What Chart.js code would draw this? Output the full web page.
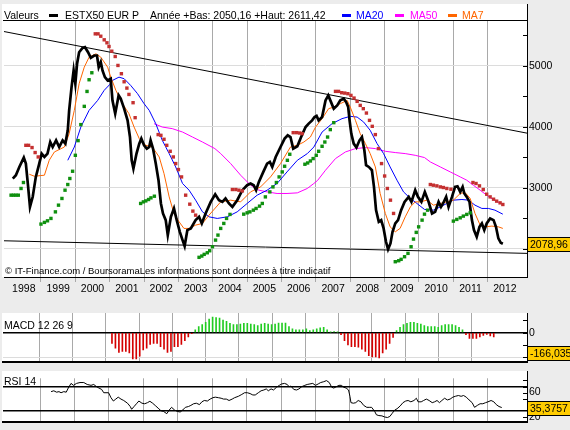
<!DOCTYPE html>
<html>
<head>
<meta charset="utf-8">
<script src="https://cdn.jsdelivr.net/npm/chart.js"></script>
<style>
  html, body { margin: 0; padding: 0; background: #ececec; }
  #wrap { position: relative; width: 570px; height: 430px; overflow: hidden; }
  canvas { position: absolute; left: 0; }
</style>
</head>
<body>
<div id="wrap">
  <canvas id="main" width="570" height="300" style="top:0"></canvas>
  <canvas id="macd" width="570" height="70" style="top:300px"></canvas>
  <canvas id="rsi" width="570" height="60" style="top:370px"></canvas>
</div>
<script>
'use strict';

// Time axis (decimal years) and year labels
var X_MIN = 1997.924, X_MAX = 2013.143;
var years = [1998, 1999, 2000, 2001, 2002, 2003, 2004, 2005, 2006, 2007, 2008, 2009, 2010, 2011, 2012];

// ESTX50 close [year, points]
var price = [
  [1998.18,3150],[1998.27,3205],[1998.37,3340],[1998.50,3495],[1998.56,3396],[1998.62,3050],[1998.68,2685],
  [1998.76,2850],[1998.85,3177],[1998.95,3396],[1999.02,3560],[1999.10,3505],[1999.19,3560],[1999.27,3750],
  [1999.34,3668],[1999.44,3778],[1999.53,3668],[1999.63,3778],[1999.71,3724],[1999.78,3942],[1999.82,4270],
  [1999.89,4652],[1999.95,4926],[2000.00,4708],[2000.05,5035],[2000.11,5225],[2000.21,5297],[2000.28,5308],
  [2000.37,5225],[2000.45,5134],[2000.55,5171],[2000.63,5171],[2000.68,4980],[2000.74,5062],[2000.79,4926],
  [2000.86,4816],[2000.94,4762],[2001.03,4790],[2001.08,4434],[2001.16,4216],[2001.26,4516],[2001.32,4462],
  [2001.42,4298],[2001.52,4106],[2001.59,3832],[2001.64,3450],[2001.69,3314],[2001.78,3560],[2001.86,3724],
  [2001.92,3806],[2002.00,3696],[2002.08,3642],[2002.15,3668],[2002.19,3778],[2002.26,3642],[2002.34,3396],
  [2002.42,3123],[2002.49,2741],[2002.55,2577],[2002.63,2467],[2002.69,2221],[2002.78,2521],[2002.87,2659],
  [2002.95,2467],[2003.04,2275],[2003.12,2139],[2003.18,2041],[2003.26,2303],[2003.36,2331],[2003.50,2467],
  [2003.60,2521],[2003.68,2413],[2003.79,2577],[2003.94,2767],[2004.07,2890],[2004.18,2795],[2004.28,2767],
  [2004.37,2823],[2004.47,2741],[2004.57,2685],[2004.71,2795],[2004.86,2959],[2005.00,3041],[2005.10,3069],
  [2005.19,3041],[2005.26,2959],[2005.34,3095],[2005.47,3259],[2005.58,3396],[2005.66,3423],[2005.73,3341],
  [2005.83,3505],[2005.97,3668],[2006.09,3806],[2006.18,3860],[2006.26,3832],[2006.34,3642],[2006.46,3680],
  [2006.57,3832],[2006.70,3996],[2006.79,4052],[2006.89,4106],[2006.96,4160],[2007.02,4180],[2007.08,4106],
  [2007.18,4160],[2007.28,4434],[2007.36,4516],[2007.42,4434],[2007.52,4298],[2007.62,4352],[2007.71,4434],
  [2007.81,4462],[2007.88,4406],[2007.94,4324],[2007.98,4106],[2008.03,3888],[2008.10,3724],[2008.18,3659],
  [2008.27,3778],[2008.34,3832],[2008.41,3614],[2008.46,3369],[2008.54,3341],[2008.63,3287],[2008.69,3013],
  [2008.75,2631],[2008.83,2439],[2008.90,2467],[2008.97,2331],[2009.04,2111],[2009.10,1987],[2009.17,2085],
  [2009.23,2275],[2009.31,2413],[2009.39,2467],[2009.48,2631],[2009.58,2767],[2009.70,2849],[2009.78,2767],
  [2009.89,2959],[2009.97,2849],[2010.07,2767],[2010.17,2931],[2010.28,2767],[2010.38,2577],[2010.47,2603],
  [2010.57,2767],[2010.64,2685],[2010.70,2741],[2010.79,2849],[2010.86,2685],[2010.96,2849],[2011.05,3013],
  [2011.12,3024],[2011.20,2931],[2011.27,3013],[2011.32,2905],[2011.39,2849],[2011.47,2767],[2011.54,2467],
  [2011.60,2303],[2011.68,2193],[2011.76,2357],[2011.83,2413],[2011.90,2303],[2011.97,2413],[2012.07,2495],
  [2012.17,2467],[2012.24,2357],[2012.31,2167],[2012.38,2095],[2012.44,2079]
];
var lastClose = 2078.96;

var ma7 = [
  [1998.66,3221],[1998.81,3188],[1999.10,3205],[1999.24,3450],[1999.39,3587],[1999.68,3668],[1999.82,3888],
  [1999.97,4270],[2000.11,4708],[2000.26,4980],[2000.40,5144],[2000.60,5200],[2000.74,5144],[2000.94,4980],
  [2001.03,4816],[2001.18,4598],[2001.37,4380],[2001.56,4216],[2001.71,3996],[2001.86,3806],[2002.05,3696],
  [2002.24,3668],[2002.44,3505],[2002.58,3232],[2002.73,2849],[2002.87,2577],[2003.02,2439],[2003.16,2331],
  [2003.31,2331],[2003.50,2385],[2003.70,2413],[2003.89,2549],[2004.23,2767],[2004.52,2795],[2004.81,2767],
  [2005.10,2931],[2005.39,3013],[2005.68,3177],[2005.97,3396],[2006.26,3668],[2006.46,3696],[2006.65,3750],
  [2006.84,3832],[2006.99,3996],[2007.18,4134],[2007.37,4298],[2007.52,4324],[2007.71,4380],[2007.91,4434],
  [2008.00,4324],[2008.15,4106],[2008.29,3888],[2008.44,3724],[2008.58,3560],[2008.73,3341],[2008.87,2905],
  [2009.02,2577],[2009.16,2357],[2009.31,2275],[2009.45,2331],[2009.60,2521],[2009.75,2685],[2009.89,2767],
  [2010.04,2767],[2010.23,2795],[2010.42,2713],[2010.62,2741],[2010.81,2767],[2011.00,2795],[2011.20,2905],
  [2011.34,2921],[2011.49,2823],[2011.63,2577],[2011.78,2385],[2011.93,2357],[2012.12,2369],[2012.31,2357],
  [2012.44,2331]
];

var ma20 = [
  [1999.78,3450],[1999.97,3668],[2000.16,3996],[2000.40,4270],[2000.65,4434],[2000.84,4600],[2001.01,4700],
  [2001.08,4762],[2001.27,4816],[2001.42,4790],[2001.61,4680],[2001.81,4544],[2002.00,4380],[2002.15,4270],
  [2002.34,4052],[2002.53,3778],[2002.73,3560],[2002.92,3341],[2003.12,3069],[2003.31,2959],[2003.50,2795],
  [2003.70,2603],[2003.89,2521],[2004.13,2495],[2004.42,2521],[2004.71,2603],[2005.00,2741],[2005.29,2877],
  [2005.58,2959],[2005.87,3069],[2006.16,3259],[2006.46,3450],[2006.75,3560],[2006.94,3668],[2007.18,3914],
  [2007.47,4052],[2007.76,4134],[2008.00,4172],[2008.20,4160],[2008.39,4078],[2008.58,3942],[2008.78,3724],
  [2008.97,3560],[2009.16,3341],[2009.36,3123],[2009.55,2931],[2009.75,2823],[2009.94,2741],[2010.16,2643],
  [2010.42,2631],[2010.62,2685],[2010.81,2741],[2011.00,2795],[2011.25,2806],[2011.44,2795],[2011.63,2713],
  [2011.83,2659],[2012.02,2659],[2012.21,2631],[2012.44,2565]
];

var ma50 = [
  [2002.29,4052],[2002.53,3996],[2002.82,3970],[2003.12,3914],[2003.41,3832],[2003.70,3750],[2004.06,3642],
  [2004.23,3560],[2004.52,3396],[2004.81,3205],[2005.10,3041],[2005.34,2959],[2005.58,2931],[2005.87,2905],
  [2006.16,2905],[2006.46,2915],[2006.75,2987],[2006.94,3069],[2007.05,3120],[2007.28,3287],[2007.57,3478],
  [2007.86,3587],[2008.15,3642],[2008.44,3659],[2008.73,3642],[2009.02,3598],[2009.31,3577],[2009.60,3560],
  [2009.89,3532],[2010.16,3495],[2010.33,3423],[2010.62,3341],[2010.91,3259],[2011.20,3177],[2011.39,3123],
  [2011.58,3041],[2011.78,2959],[2011.97,2877],[2012.17,2800],[2012.44,2725]
];

// Parabolic SAR, above price (red) and below price (green)
var sarDown = [
  [1998.56,3696],[1998.64,3696],[1998.74,3659],[1998.83,3577],[1998.92,3505],
  [2000.58,5527],[2000.66,5527],[2000.74,5488],[2000.84,5429],[2000.92,5380],[2000.98,5319],[2001.06,5242],
  [2001.16,5155],[2001.24,5008],[2001.34,4872],[2001.42,4740],[2001.50,4636],[2001.56,4532],[2001.68,4396],
  [2001.74,4150],
  [2002.41,3872],[2002.49,3860],[2002.58,3795],[2002.66,3696],[2002.76,3598],[2002.85,3505],[2002.92,3396],
  [2003.00,3298],[2003.09,3177],[2003.21,2877],[2003.33,2729],[2003.42,2615],[2003.50,2549],
  [2004.57,2970],[2004.67,2970],[2004.76,2959],[2004.86,2947],
  [2006.34,3904],[2006.44,3904],[2006.53,3898],[2006.60,3888],
  [2007.57,4582],[2007.66,4582],[2007.75,4560],[2007.84,4554],[2007.93,4544],[2008.02,4516],[2008.11,4472],
  [2008.20,4418],[2008.29,4352],[2008.38,4298],[2008.47,4226],[2008.56,4106],[2008.64,4008],[2008.73,3872],
  [2008.82,3642],[2008.91,3396],[2009.00,3192],[2009.08,2987],[2009.17,2795],[2009.26,2577],
  [2010.33,3052],[2010.42,3041],[2010.52,3030],[2010.62,3013],[2010.71,3003],[2010.81,2987],[2010.93,2975],
  [2011.57,3085],[2011.66,3069],[2011.76,3030],[2011.87,2970],[2011.97,2893],[2012.07,2849],[2012.17,2811],
  [2012.26,2779],[2012.36,2751],[2012.44,2724]
];
var sarUp = [
  [1998.13,2877],[1998.20,2877],[1998.27,2877],[1998.34,2877],[1998.42,2987],[1998.49,3085],
  [1999.00,2402],[1999.10,2430],[1999.19,2456],[1999.29,2495],[1999.42,2603],[1999.51,2713],[1999.61,2823],
  [1999.70,2959],[1999.78,3052],[1999.84,3151],[1999.92,3270],[2000.00,3532],[2000.08,3773],[2000.16,4036],
  [2000.26,4336],[2000.34,4581],[2000.40,4773],[2000.48,4888],
  [2001.90,2741],[2001.98,2767],[2002.05,2783],[2002.13,2806],[2002.20,2833],[2002.30,2860],
  [2003.60,1856],[2003.68,1877],[2003.75,1905],[2003.84,1931],[2003.91,1964],[2003.99,2030],[2004.08,2139],
  [2004.15,2221],[2004.23,2331],[2004.32,2413],[2004.40,2495],[2004.50,2561],
  [2004.90,2565],[2005.00,2587],[2005.08,2603],[2005.18,2631],[2005.26,2659],[2005.36,2697],[2005.44,2741],
  [2005.53,2849],[2005.66,2931],[2005.75,3013],[2005.85,3085],[2005.93,3177],[2006.02,3259],[2006.09,3352],
  [2006.17,3450],[2006.24,3549],
  [2006.68,3385],[2006.76,3406],[2006.84,3439],[2006.92,3478],[2007.01,3532],[2007.08,3598],[2007.18,3680],
  [2007.26,3750],[2007.34,3832],[2007.42,3954],[2007.52,4068],
  [2009.31,1784],[2009.41,1800],[2009.48,1823],[2009.58,1866],[2009.68,1921],[2009.77,2030],[2009.84,2156],
  [2009.92,2266],[2009.99,2357],[2010.09,2467],[2010.16,2565],[2010.25,2631],
  [2011.00,2451],[2011.10,2479],[2011.20,2505],[2011.29,2533],[2011.39,2561],[2011.49,2587]
];

// Trend lines drawn on the chart
var trendTop = [[X_MIN, 5565], [X_MAX, 3896]];
var trendBottom = [[X_MIN, 2128], [X_MAX, 1921]];

// MACD 12 26 9 histogram, one bar per period from macdStart
var macdStart = 2000.93, macdStep = 0.1044;
var macdValues = [
  -86, -125, -159, -151, -151, -164, -211, -211, -190, -138, -125, -94, -86, -86, -112, -133, -159, -151,
  -112, -112, -94, -65, -34, -8,
  23, 49, 65, 83, 109, 127, 122, 117, 101, 91, 75, 65, 65, 70, 75, 75, 70, 65, 57, 70, 75, 70, 65, 70,
  78, 78, 78, 49, 31, 23, 23, 23, 31, 18, 23, 31, 39, 44, 23, 5, 10, 5,
  -16, -65, -99, -112, -112, -117, -133, -151, -185, -195, -195, -203, -164, -133, -86, -39,
  18, 44, 65, 75, 83, 83, 75, 70, 57, 49, 49, 49, 44, 57, 65, 65, 65, 57, 44, 23,
  -16, -47, -47, -47, -34, -21, -13, -26, -34
];
var macdLast = -166.035;

// RSI 14
var rsiYears = [
  1999.32,1999.40,1999.48,1999.55,1999.61,1999.69,1999.76,1999.82,1999.90,1999.97,2000.06,2000.16,2000.27,
  2000.37,2000.48,2000.56,2000.64,2000.71,2000.79,2000.85,2000.99,2001.06,2001.13,2001.20,2001.27,2001.35,
  2001.43,2001.54,2001.62,2001.66,2001.73,2001.80,2001.87,2001.96,2002.04,2002.12,2002.19,2002.27,2002.36,
  2002.43,2002.51,2002.59,2002.68,2002.75,2002.82,2002.91,2002.99,2003.07,2003.14,2003.22,2003.31,2003.38,
  2003.46,2003.54,2003.63,2003.70,2003.77,2003.86,2003.94,2004.02,2004.09,2004.18,2004.26,2004.33,2004.41,
  2004.49,2004.58,2004.65,2004.76,2004.86,2004.94,2005.02,2005.10,2005.18,2005.25,2005.34,2005.42,2005.50,
  2005.57,2005.63,2005.71,2005.78,2005.87,2005.95,2006.02,2006.10,2006.18,2006.23,2006.29,2006.37,2006.45,
  2006.52,2006.60,2006.69,2006.76,2006.84,2006.92,2007.00,2007.08,2007.15,2007.24,2007.32,2007.40,2007.47,
  2007.53,2007.61,2007.68,2007.75,2007.82,2007.89,2007.96,2008.00,2008.03,2008.10,2008.17,2008.24,2008.32,
  2008.40,2008.49,2008.56,2008.63,2008.72,2008.77,2008.84,2008.93,2009.01,2009.09,2009.16,2009.22,2009.30,
  2009.37,2009.46,2009.54,2009.62,2009.69,2009.77,2009.86,2009.93,2009.98,2010.07,2010.14,2010.22,2010.30,
  2010.39,2010.46,2010.53,2010.60,2010.67,2010.75,2010.83,2010.91,2010.99,2011.06,2011.15,2011.23,2011.30,
  2011.38,2011.46,2011.55,2011.62,2011.70,2011.78,2011.86,2011.94,2012.01,2012.10,2012.18,2012.25,2012.33,
  2012.41
];
var rsiValues = [
  61.6,63.0,60.7,61.6,59.8,61.6,60.7,67.5,75.2,72.0,75.2,76.6,76.6,
  73.4,72.0,73.4,69.8,67.5,65.2,59.8,59.8,51.6,46.1,49.3,52.5,49.3,
  47.0,42.5,37.0,32.5,37.0,41.6,46.1,42.5,41.6,43.4,45.7,42.5,38.0,
  34.3,30.2,28.9,25.2,31.1,35.7,31.1,28.9,28.0,31.1,35.7,37.0,38.9,
  41.6,42.5,40.2,44.8,47.0,46.1,49.3,51.6,52.5,51.6,50.7,49.3,49.3,
  47.0,49.3,51.6,53.9,57.0,59.8,59.8,58.4,56.1,56.1,59.8,63.0,64.3,
  66.1,63.0,66.1,64.3,68.9,72.0,74.3,75.2,73.4,69.8,70.7,65.2,64.3,
  66.1,69.8,72.0,73.4,74.3,75.2,72.0,74.3,76.6,78.0,79.8,76.6,68.9,
  67.5,69.8,72.0,72.0,68.9,67.5,64.3,53.9,43.4,42.5,43.4,47.0,44.8,
  38.9,35.7,35.7,35.7,28.9,23.4,22.1,21.6,19.8,18.9,20.7,25.2,31.1,
  33.4,38.0,43.4,46.1,47.0,44.8,47.0,50.7,44.8,44.8,47.0,49.3,47.0,
  43.4,44.8,47.0,43.4,47.0,50.7,47.9,49.3,52.5,53.9,55.2,53.9,55.2,
  52.5,47.9,43.4,35.7,38.9,41.6,41.6,43.4,44.8,47.0,44.8,40.2,37.0,
  35.4
];
var rsiLast = 35.3757;

var FONT = '"Liberation Sans", Arial, sans-serif';
Chart.defaults.font.family = FONT;
Chart.defaults.font.size = 10.5;
Chart.defaults.color = '#000';

var NONE = 'rgba(0,0,0,0)';
var GRID_V = '#a9a9a9';

function toXY(pairs) {
  return pairs.map(function(p) { return { x: p[0], y: p[1] }; });
}
function fmt(v, digits) {
  return v.toFixed(digits).replace('.', ',');
}

// Year axis: gridlines on year boundaries, labels in the middle of each year
function yearAxis(height, showLabels) {
  return {
    type: 'linear',
    min: X_MIN,
    max: X_MAX,
    afterBuildTicks: function(scale) {
      var t = [];
      years.forEach(function(y) {
        if (y > years[0]) t.push({ value: y });
        t.push({ value: y + 0.5 });
      });
      scale.ticks = t;
    },
    afterFit: function(scale) { scale.height = height; },
    grid: {
      color: function(ctx) { return ctx.tick && ctx.tick.value % 1 === 0 ? GRID_V : NONE; },
      lineWidth: 1,
      drawTicks: showLabels,
      tickLength: 5
    },
    border: { display: true, color: '#000', width: showLabels ? 1 : 2 },
    ticks: {
      display: showLabels,
      autoSkip: false,
      maxRotation: 0,
      padding: 1,
      callback: function(v) { return v % 1 ? String(Math.floor(v)) : ''; }
    }
  };
}

function rightAxis(min, max, tickValues, gridColor, label) {
  return {
    type: 'linear',
    position: 'right',
    min: min,
    max: max,
    afterBuildTicks: function(scale) {
      scale.ticks = tickValues.map(function(v) { return { value: v }; });
    },
    afterFit: function(scale) { scale.width = 43; },
    grid: {
      color: function(ctx) { return ctx.tick ? gridColor(ctx.tick.value) : NONE; },
      lineWidth: function(ctx) { return ctx.tick && gridColor(ctx.tick.value) === '#000' ? 1.5 : 1; },
      drawTicks: false
    },
    border: { display: true, color: '#000', width: 1 },
    ticks: { padding: 2, autoSkip: false, callback: label }
  };
}

// White panel, inner ticks on the value axis, text labels and the last value box
var panelPlugin = {
  id: 'panel',
  beforeDraw: function(chart, args, o) {
    var ctx = chart.ctx, a = chart.chartArea;
    ctx.save();
    ctx.fillStyle = '#fff';
    ctx.fillRect(2, o.top, a.right - 2, a.bottom - o.top);
    ctx.restore();
  },
  afterDraw: function(chart, args, o) {
    var ctx = chart.ctx, a = chart.chartArea, ys = chart.scales.y;
    ctx.save();
    ctx.strokeStyle = '#000';
    ctx.lineWidth = 1;
    ctx.beginPath();
    o.marks.forEach(function(v) {
      var py = Math.round(ys.getPixelForValue(v)) + 0.5;
      ctx.moveTo(a.right - 4, py);
      ctx.lineTo(a.right, py);
    });
    ctx.moveTo(Math.round(a.right) + 0.5, o.top);
    ctx.lineTo(Math.round(a.right) + 0.5, a.bottom);
    ctx.stroke();

    ctx.fillStyle = '#000';
    ctx.textBaseline = 'alphabetic';
    (o.texts || []).forEach(function(t) {
      ctx.font = (t.size || 10.5) + 'px ' + FONT;
      ctx.fillStyle = t.color || '#000';
      ctx.fillText(t.text, t.x, t.y);
    });

    ctx.font = '10.5px ' + FONT;
    var w = Math.max(40, Math.ceil(ctx.measureText(o.box.text).width) + 5);
    var by = ys.getPixelForValue(o.box.value);
    var top = Math.round(by - 7) + 0.5;
    ctx.fillStyle = '#ffcc00';
    ctx.fillRect(527.5, top, w, 14);
    ctx.strokeRect(527.5, top, w, 14);
    ctx.fillStyle = '#000';
    ctx.textAlign = 'left';
    ctx.textBaseline = 'middle';
    ctx.fillText(o.box.text, 530, top + 7.5);
    ctx.restore();
  }
};

// Header legend of the price chart
var headerPlugin = {
  id: 'header',
  afterDraw: function(chart) {
    var ctx = chart.ctx, a = chart.chartArea;
    ctx.save();
    ctx.strokeStyle = '#000';
    ctx.lineWidth = 1;
    ctx.beginPath();
    ctx.moveTo(3, 20.5);
    ctx.lineTo(a.right, 20.5);
    ctx.stroke();
    var items = [
      { sw: null, text: 'Valeurs', x: 4, color: '#000' },
      { sw: [49, '#000'], text: 'ESTX50 EUR P', x: 65, color: '#000' },
      { sw: null, text: 'Année +Bas: 2050,16 +Haut: 2611,42', x: 150, color: '#000' },
      { sw: [342, '#0000ff'], text: 'MA20', x: 356, color: '#0000ff' },
      { sw: [395, '#ff00ff'], text: 'MA50', x: 410, color: '#ff00ff' },
      { sw: [448, '#ff6600'], text: 'MA7', x: 462, color: '#ff6600' }
    ];
    ctx.font = '10.5px ' + FONT;
    ctx.textBaseline = 'alphabetic';
    items.forEach(function(it) {
      if (it.sw) {
        ctx.fillStyle = it.sw[1];
        ctx.fillRect(it.sw[0], 14, 9, 3);
      }
      ctx.fillStyle = it.color;
      ctx.fillText(it.text, it.x, 18.5);
    });
    ctx.restore();
  }
};

function lineSet(pairs, color, width) {
  return {
    data: toXY(pairs),
    showLine: true,
    borderColor: color,
    borderWidth: width,
    pointRadius: 0,
    tension: 0
  };
}
function dotSet(pairs, color) {
  return {
    data: toXY(pairs),
    showLine: false,
    pointStyle: 'rect',
    pointRadius: 2.4,
    pointBorderWidth: 0,
    backgroundColor: color,
    borderColor: color
  };
}

new Chart(document.getElementById('main'), {
  type: 'scatter',
  data: {
    datasets: [
      dotSet(sarDown, '#c43030'),
      dotSet(sarUp, '#0f900f'),
      lineSet(price, '#000', 2.7),
      lineSet(ma7, '#ff6600', 1),
      lineSet(ma20, '#0000ff', 1),
      lineSet(ma50, '#ff00ff', 1),
      lineSet(trendTop, '#000', 1),
      lineSet(trendBottom, '#000', 1)
    ]
  },
  options: {
    responsive: false,
    animation: false,
    layout: { padding: { left: 3, top: 21, right: 0, bottom: 0 } },
    plugins: {
      legend: { display: false },
      tooltip: { enabled: false },
      panel: {
        top: 4,
        marks: [2000, 2500, 3000, 3500, 4000, 4500, 5000, 5500],
        texts: [{ text: '© IT-Finance.com / BoursoramaLes informations sont données à titre indicatif', x: 5, y: 273.5, size: 9.5 }],
        box: { value: lastClose, text: fmt(lastClose, 2) }
      }
    },
    scales: {
      x: yearAxis(23, true),
      y: rightAxis(1533, 5738, [2000, 2500, 3000, 3500, 4000, 4500, 5000, 5500],
        function(v) { return v % 1000 === 0 ? '#dcdcdc' : NONE; },
        function(v) { return v % 1000 === 0 && v > 2000 ? String(v) : ''; })
    }
  },
  plugins: [panelPlugin, headerPlugin]
});

new Chart(document.getElementById('macd'), {
  type: 'bar',
  data: {
    datasets: [{
      data: macdValues.map(function(v, i) { return { x: macdStart + i * macdStep, y: v }; }),
      barThickness: 1,
      backgroundColor: function(ctx) { return ctx.raw && ctx.raw.y < 0 ? '#d40000' : '#22cc22'; }
    }]
  },
  options: {
    responsive: false,
    animation: false,
    layout: { padding: { left: 3, top: 13, right: 0, bottom: 0 } },
    plugins: {
      legend: { display: false },
      tooltip: { enabled: false },
      panel: {
        top: 13,
        marks: [100, 0, -100, -200],
        texts: [{ text: 'MACD 12 26 9', x: 4, y: 28.5 }],
        box: { value: macdLast, text: fmt(macdLast, 3) }
      }
    },
    scales: {
      x: yearAxis(2, false),
      y: rightAxis(-234, 159, [-200, -100, 0, 100],
        function(v) { return v === 0 ? '#000' : v === -200 ? '#dcdcdc' : NONE; },
        function(v) { return v === 0 ? '0' : ''; })
    }
  },
  plugins: [panelPlugin]
});

new Chart(document.getElementById('rsi'), {
  type: 'scatter',
  data: {
    datasets: [{
      data: rsiYears.map(function(y, i) { return { x: y, y: rsiValues[i] }; }),
      showLine: true,
      borderColor: '#000',
      borderWidth: 1,
      pointRadius: 0,
      tension: 0
    }]
  },
  options: {
    responsive: false,
    animation: false,
    layout: { padding: { left: 3, top: 1, right: 0, bottom: 0 } },
    plugins: {
      legend: { display: false },
      tooltip: { enabled: false },
      panel: {
        top: 1,
        marks: [80, 70, 60, 50, 20],
        texts: [{ text: 'RSI 14', x: 4, y: 15 }],
        box: { value: rsiLast, text: fmt(rsiLast, 4) }
      }
    },
    scales: {
      x: yearAxis(1, false),
      y: rightAxis(12, 83.6, [20, 30, 60, 70],
        function(v) { return v === 70 || v === 30 ? '#000' : NONE; },
        function(v) { return v === 60 || v === 20 ? String(v) : ''; })
    }
  },
  plugins: [panelPlugin]
});
</script>
</body>
</html>
